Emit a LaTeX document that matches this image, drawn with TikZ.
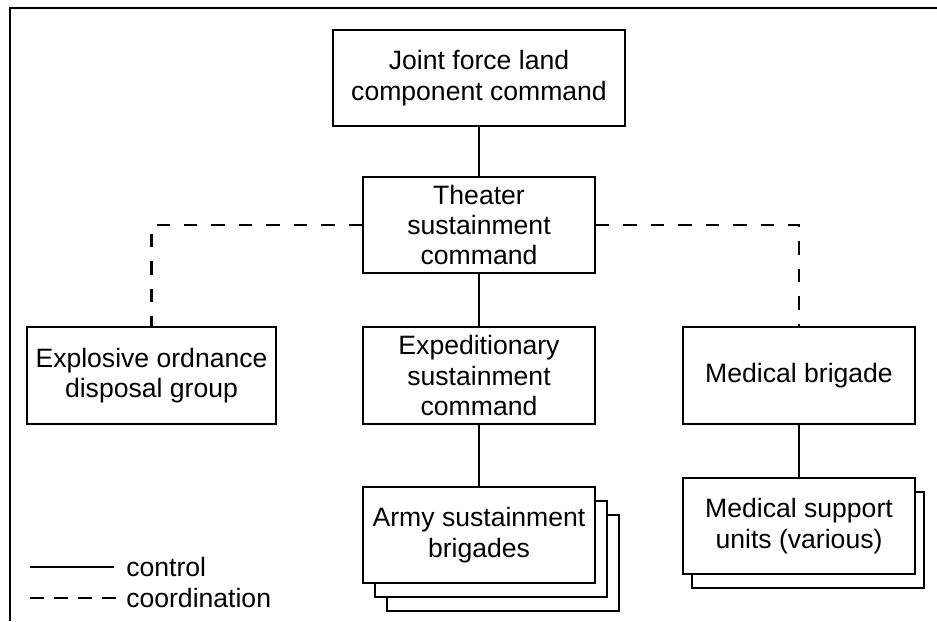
\documentclass[tikz,border=0pt]{standalone}
\usepackage{fontspec}
\setmainfont{Liberation Sans}
\usetikzlibrary{shadows}

\tikzset{
	unitbox/.style={draw, fill=white, line width=1.5pt, align=center,
		minimum width=232*0.025cm, minimum height=96*0.025cm, inner sep=2pt,
		font=\fontsize{18.9}{21.6}\selectfont},
	unitstack/.style={unitbox, double copy shadow={shadow xshift=0.3cm, shadow yshift=-0.35cm}},
	unitpair/.style={unitbox, copy shadow={shadow xshift=0.22cm, shadow yshift=-0.35cm}},
	ctrl/.style={line width=1.5pt},
	coord/.style={line width=1.5pt, dash pattern=on 9.5pt off 10pt},
	keytext/.style={anchor=west, inner sep=0pt, font=\fontsize{18.9}{21.6}\selectfont}
}

\begin{document}
\begin{tikzpicture}[x=0.025cm, y=-0.025cm]
		\useasboundingbox (0, 0) rectangle (937, 621);
		% frame
		\path[draw, line width=2pt] (10, 621) -- (10, 8) -- (937, 8);

		\node[unitbox, minimum width=292*0.025cm] (jflcc) at (479, 78) {Joint force land\\component command};
		\node[unitbox] (tsc) at (479, 225) {Theater\\sustainment\\command};
		\node[unitbox, minimum width=249*0.025cm, minimum height=97*0.025cm] (eod) at (151.5, 375.5) {Explosive ordnance\\disposal group};
		\node[unitbox, minimum height=97*0.025cm] (esc) at (479, 375.5) {Expeditionary\\sustainment\\command};
		\node[unitbox, minimum height=97*0.025cm] (medbde) at (799, 375.5) {Medical brigade};
		\node[unitstack] (asb) at (479, 535) {Army sustainment\\brigades};
		\node[unitpair] (medsup) at (799, 526) {Medical support\\units (various)};

		\draw[ctrl] (jflcc) -- (tsc);
		\draw[ctrl] (tsc) -- (esc);
		\draw[ctrl] (esc) -- (asb);
		\draw[ctrl] (medbde) -- (medsup);
		\draw[coord] (tsc.west) -| (eod.north);
		\draw[coord] (tsc.east) -| (medbde.north);

		% legend
		\coordinate (ctrlA) at (30, 567);
		\coordinate (ctrlB) at (114, 567);
		\coordinate (coordA) at (30, 598);
		\coordinate (coordB) at (116, 598);
		\draw[ctrl] (ctrlA) -- (ctrlB);
		\draw[line width=1.5pt, dash pattern=on 10pt off 7pt] (coordA) -- (coordB);
		\node[keytext] (ctrltext) at (126, 567) {control};
		\node[keytext] (coordtext) at (126, 598) {coordination};
	\end{tikzpicture}
\end{document}
